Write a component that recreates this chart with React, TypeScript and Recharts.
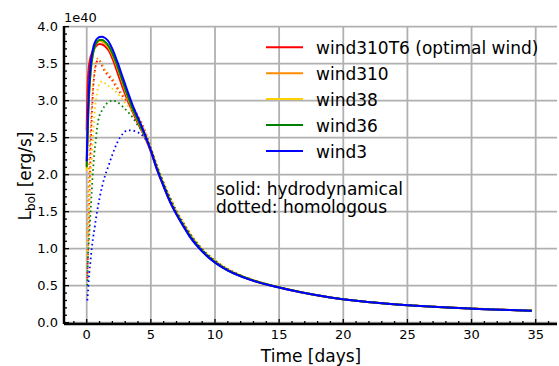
import { LineChart, Line, XAxis, YAxis, CartesianGrid } from 'recharts';

// time since explosion [days]
const days = [
  0, 0.05, 0.1, 0.15, 0.2, 0.3, 0.4, 0.5, 0.6, 0.7, 0.8, 0.9, 1.0, 1.2, 1.4, 1.7, 2.0, 2.4, 2.8, 3.2, 3.6, 4.0, 4.5,
  5, 5.5, 6, 6.5, 7, 7.5, 8, 9, 10, 11, 12, 13, 14, 15, 17, 19, 21, 23, 25, 27, 29, 31, 33, 34.7,
];

// L_bol in units of 1e40 erg/s, hydrodynamical runs (solid)
const wind310T6Hydro = [
  2.6, 3.05, 3.3, 3.42, 3.5, 3.59, 3.64, 3.68, 3.71, 3.73, 3.75, 3.76, 3.765, 3.76, 3.74, 3.68, 3.57, 3.38, 3.18, 3.0, 2.84, 2.69, 2.52,
  2.31, 2.06, 1.84, 1.64, 1.47, 1.32, 1.18, 0.97, 0.815, 0.707, 0.628, 0.567, 0.517, 0.476, 0.401, 0.34, 0.295, 0.262, 0.236, 0.215, 0.198, 0.183, 0.17, 0.16,
];
const wind310Hydro = [
  2.12, 2.52, 2.82, 3.03, 3.19, 3.41, 3.56, 3.66, 3.72, 3.76, 3.79, 3.8, 3.81, 3.8, 3.78, 3.72, 3.62, 3.44, 3.24, 3.04, 2.87, 2.72, 2.53,
  2.33, 2.08, 1.86, 1.65, 1.48, 1.33, 1.19, 0.975, 0.823, 0.712, 0.632, 0.57, 0.52, 0.478, 0.402, 0.341, 0.296, 0.263, 0.237, 0.216, 0.199, 0.184, 0.171, 0.161,
];
const wind38Hydro = [
  2.05, 2.45, 2.76, 2.98, 3.15, 3.39, 3.54, 3.64, 3.71, 3.76, 3.79, 3.8, 3.81, 3.81, 3.79, 3.73, 3.63, 3.45, 3.25, 3.05, 2.88, 2.72, 2.54,
  2.33, 2.08, 1.86, 1.65, 1.48, 1.33, 1.19, 0.975, 0.823, 0.712, 0.632, 0.57, 0.52, 0.478, 0.402, 0.341, 0.296, 0.263, 0.237, 0.216, 0.199, 0.184, 0.171, 0.161,
];
const wind36Hydro = [
  2.1, 2.4, 2.7, 2.94, 3.12, 3.37, 3.53, 3.64, 3.71, 3.76, 3.79, 3.81, 3.82, 3.82, 3.8, 3.74, 3.64, 3.46, 3.26, 3.06, 2.88, 2.73, 2.54,
  2.33, 2.07, 1.85, 1.64, 1.47, 1.32, 1.18, 0.97, 0.818, 0.708, 0.63, 0.568, 0.518, 0.477, 0.401, 0.34, 0.295, 0.262, 0.236, 0.215, 0.198, 0.183, 0.17, 0.16,
];
const wind3Hydro = [
  2.18, 2.55, 2.85, 3.08, 3.25, 3.48, 3.62, 3.71, 3.77, 3.81, 3.835, 3.85, 3.86, 3.865, 3.85, 3.8, 3.7, 3.52, 3.32, 3.12, 2.93, 2.77, 2.56,
  2.32, 2.06, 1.84, 1.63, 1.46, 1.31, 1.17, 0.96, 0.81, 0.703, 0.625, 0.565, 0.515, 0.475, 0.4, 0.34, 0.295, 0.262, 0.236, 0.215, 0.198, 0.183, 0.17, 0.16,
];

// homologous runs (dotted)
const wind310T6Homol = [
  null, 0.6, 0.95, 1.3, 1.62, 2.3, 2.8, 3.15, 3.35, 3.47, 3.53, 3.55, 3.54, 3.47, 3.4, 3.33, 3.27, 3.16, 3.06, 2.98, 2.9, 2.79, 2.61,
  2.36, 2.11, 1.89, 1.69, 1.51, 1.36, 1.22, 0.995, 0.84, 0.724, 0.64, 0.575, 0.523, 0.48, 0.403, 0.342, 0.297, 0.264, 0.238, 0.217, 0.2, 0.185, 0.172, 0.162,
];
const wind310Homol = [
  null, 1.2, 1.6, 1.95, 2.18, 2.6, 2.95, 3.2, 3.38, 3.5, 3.56, 3.57, 3.55, 3.49, 3.42, 3.36, 3.3, 3.18, 3.08, 3.0, 2.92, 2.8, 2.62,
  2.36, 2.11, 1.89, 1.69, 1.51, 1.36, 1.22, 0.995, 0.84, 0.724, 0.64, 0.575, 0.523, 0.48, 0.403, 0.342, 0.297, 0.264, 0.238, 0.217, 0.2, 0.185, 0.172, 0.162,
];
const wind38Homol = [
  null, 0.9, 1.25, 1.5, 1.69, 1.98, 2.25, 2.55, 2.8, 2.98, 3.1, 3.18, 3.23, 3.26, 3.24, 3.2, 3.16, 3.1, 3.01, 2.93, 2.84, 2.74, 2.6,
  2.36, 2.11, 1.89, 1.69, 1.51, 1.36, 1.22, 0.995, 0.84, 0.724, 0.64, 0.575, 0.523, 0.48, 0.403, 0.342, 0.297, 0.264, 0.238, 0.217, 0.2, 0.185, 0.172, 0.162,
];
const wind36Homol = [
  null, 0.5, 0.88, 1.05, 1.19, 1.5, 1.8, 2.08, 2.3, 2.45, 2.62, 2.73, 2.8, 2.87, 2.93, 2.98, 3.0, 2.98, 2.92, 2.85, 2.77, 2.66, 2.56,
  2.35, 2.1, 1.88, 1.68, 1.5, 1.35, 1.21, 0.99, 0.835, 0.72, 0.637, 0.573, 0.522, 0.479, 0.402, 0.341, 0.296, 0.263, 0.237, 0.216, 0.199, 0.184, 0.171, 0.161,
];
const wind3Homol = [
  null, 0.3, 0.42, 0.56, 0.67, 0.84, 1.02, 1.15, 1.26, 1.38, 1.49, 1.59, 1.68, 1.84, 1.97, 2.12, 2.27, 2.44, 2.55, 2.6, 2.595, 2.57, 2.5,
  2.34, 2.08, 1.86, 1.66, 1.48, 1.33, 1.19, 0.98, 0.825, 0.713, 0.633, 0.57, 0.52, 0.478, 0.402, 0.341, 0.296, 0.263, 0.237, 0.216, 0.199, 0.184, 0.171, 0.161,
];

const seriesNames = ['wind310T6 (optimal wind)', 'wind310', 'wind38', 'wind36', 'wind3'];
const seriesColors = ['#ff0000', '#ff8c00', '#ffd000', '#008000', '#0000ff'];
const hydroRuns = [wind310T6Hydro, wind310Hydro, wind38Hydro, wind36Hydro, wind3Hydro];
const homolRuns = [wind310T6Homol, wind310Homol, wind38Homol, wind36Homol, wind3Homol];

const xMajorTicks = [0, 5, 10, 15, 20, 25, 30, 35];
const yMajorTicks = [0, 0.5, 1.0, 1.5, 2.0, 2.5, 3.0, 3.5, 4.0];
// minor ticks: every day on x, every 0.1 on y
const xAllTicks = Array.from({ length: 38 }, (_, i) => i - 1);
const yAllTicks = Array.from({ length: 41 }, (_, i) => i / 10);

const W = 559;
const H = 366;
const FONT = 'DejaVu Sans, sans-serif';
const X_MARGIN = 4;
const Y_MARGIN = 6;

const data = days.map((t, i) => {
  const row: Record<string, number | null> = { t };
  hydroRuns.forEach((arr, k) => {
    row[`h${k}`] = arr[i];
  });
  homolRuns.forEach((arr, k) => {
    row[`d${k}`] = arr[i];
  });
  return row;
});

function XTick(props: any) {
  const { x, y, payload } = props;
  const v = payload.value as number;
  const major = v % 5 === 0;
  const edge = y - X_MARGIN;
  return (
    <g>
      <line x1={x} x2={x} y1={edge} y2={edge - (major ? 5 : 3)} stroke="#000" strokeWidth={1.3} />
      {major && v >= 0 && (
        <text x={x} y={edge + 15} textAnchor="middle" fontSize={13} fontFamily={FONT} fill="#000">
          {v}
        </text>
      )}
    </g>
  );
}

function YTick(props: any) {
  const { x, y, payload } = props;
  const v = payload.value as number;
  const major = Math.abs(v * 2 - Math.round(v * 2)) < 1e-6;
  const edge = x + Y_MARGIN;
  return (
    <g>
      <line x1={edge} x2={edge + (major ? 5 : 3)} y1={y} y2={y} stroke="#000" strokeWidth={1.3} />
      {major && (
        <text x={x} y={y + 4.7} textAnchor="end" fontSize={13} fontFamily={FONT} fill="#000">
          {v.toFixed(1)}
        </text>
      )}
    </g>
  );
}

export default function App() {
  return (
    <div style={{ position: 'absolute', left: 0, top: 0, width: W, height: H, background: '#fff' }}>
      <LineChart width={W} height={H} data={data} margin={{ top: 26, right: 2, bottom: 0, left: 0 }}>
        <CartesianGrid
          stroke="#b0b0b0"
          strokeWidth={1.8}
          horizontalValues={yMajorTicks}
          verticalValues={xMajorTicks}
        />
        <XAxis
          dataKey="t"
          type="number"
          domain={[-1.77, 36.66]}
          allowDataOverflow
          ticks={xAllTicks}
          interval={0}
          tickSize={0}
          tickMargin={X_MARGIN}
          tickLine={false}
          tick={(p: any) => <XTick {...p} />}
          axisLine={{ stroke: '#000', strokeWidth: 2.5 }}
          height={42}
        />
        <XAxis
          xAxisId="top"
          orientation="top"
          type="number"
          domain={[-1.77, 36.66]}
          tick={false}
          tickLine={false}
          axisLine={{ stroke: '#000', strokeWidth: 2.5 }}
          height={0}
        />
        <YAxis
          type="number"
          domain={[-0.018, 4.009]}
          allowDataOverflow
          ticks={yAllTicks}
          interval={0}
          tickSize={0}
          tickMargin={Y_MARGIN}
          tickLine={false}
          tick={(p: any) => <YTick {...p} />}
          axisLine={{ stroke: '#000', strokeWidth: 2.5 }}
          width={64}
        />
        <YAxis
          yAxisId="right"
          orientation="right"
          type="number"
          domain={[-0.018, 4.009]}
          tick={false}
          tickLine={false}
          axisLine={{ stroke: '#000', strokeWidth: 2.5 }}
          width={0}
        />
        {seriesColors.flatMap((color, k) => [
          <Line
            key={`h${k}`}
            dataKey={`h${k}`}
            type="monotone"
            stroke={color}
            strokeWidth={2}
            dot={false}
            activeDot={false}
            isAnimationActive={false}
          />,
          <Line
            key={`d${k}`}
            dataKey={`d${k}`}
            type="monotone"
            stroke={color}
            strokeWidth={1.8}
            strokeDasharray="1.6 3"
            dot={false}
            activeDot={false}
            isAnimationActive={false}
          />,
        ])}
      </LineChart>
      <svg
        width={W}
        height={H}
        style={{ position: 'absolute', left: 0, top: 0, pointerEvents: 'none' }}
        fontFamily={FONT}
      >
        <text x={64} y={22} fontSize={13} fill="#000">1e40</text>
        {seriesNames.map((name, k) => {
          const cy = 47.3 + k * 25.9;
          return (
            <g key={name}>
              <line x1={266} x2={303} y1={cy} y2={cy} stroke={seriesColors[k]} strokeWidth={2} />
              <text x={316} y={cy + 7} fontSize={17} fill="#000">{name}</text>
            </g>
          );
        })}
        <text x={216} y={194.5} fontSize={17} fill="#000">solid: hydrodynamical</text>
        <text x={216} y={213.3} fontSize={17} fill="#000">dotted: homologous</text>
        <text x={311} y={362} fontSize={17} textAnchor="middle" fill="#000">Time [days]</text>
        <text transform="translate(31,176) rotate(-90)" textAnchor="middle" fontSize={17} fill="#000">
          L<tspan fontSize={12} dy={3.5}>bol</tspan>
          <tspan dy={-3.5}> [erg/s]</tspan>
        </text>
      </svg>
    </div>
  );
}
